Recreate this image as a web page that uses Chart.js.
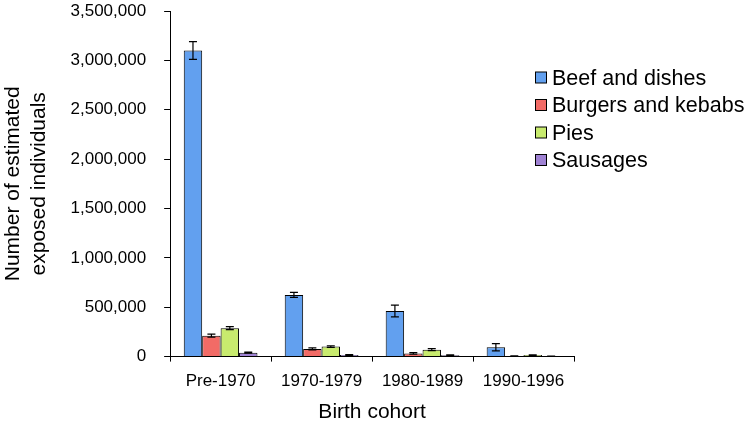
<!DOCTYPE html>
<html>
<head>
<meta charset="utf-8">
<script src="https://cdn.jsdelivr.net/npm/chart.js@4"></script>
<style>
  html, body { margin: 0; padding: 0; background: #ffffff; }
  #wrap { width: 754px; height: 424px; }
</style>
</head>
<body>
<div id="wrap"><canvas id="mychart" width="754" height="424"></canvas></div>
<script>
Chart.defaults.font.family = "'Liberation Sans', Arial, Helvetica, sans-serif";
Chart.defaults.color = "#000000";

var cohorts = ["Pre-1970", "1970-1979", "1980-1989", "1990-1996"];
var foodNames = ["Beef and dishes", "Burgers and kebabs", "Pies", "Sausages"];
var foodColours = ["#62a0ef", "#f26b66", "#c8eb6e", "#9f82d3"];

var beefValues = [3100000, 625000, 462000, 95000];
var burgerValues = [212000, 78000, 32000, 6000];
var pieValues = [288000, 102000, 70000, 15000];
var sausageValues = [40000, 16000, 14000, 5000];

var beefErrors = [90000, 25000, 60000, 37000];
var burgerErrors = [15000, 10000, 8000, 2000];
var pieErrors = [15000, 8000, 10000, 3000];
var sausageErrors = [5000, 3000, 3000, 1000];

var yTicks = [0, 500000, 1000000, 1500000, 2000000, 2500000, 3000000, 3500000];

var allValues = [beefValues, burgerValues, pieValues, sausageValues];
var allErrors = [beefErrors, burgerErrors, pieErrors, sausageErrors];

var datasets = foodNames.map(function (name, i) {
   return {
      label: name,
      data: allValues[i],
      errors: allErrors[i],
      backgroundColor: foodColours[i],
      borderColor: "#000000",
      borderWidth: 1,
      categoryPercentage: 0.73,
      barPercentage: 1.0,
   };
});

// whiskers drawn from the y scale
var errorBars = {
   id: "errorBars",
   afterDatasetsDraw: function (chart) {
      var ctx = chart.ctx;
      var y = chart.scales.y;
      ctx.save();
      ctx.strokeStyle = "#000000";
      ctx.lineWidth = 1.2;
      chart.data.datasets.forEach(function (ds, i) {
         var meta = chart.getDatasetMeta(i);
         meta.data.forEach(function (bar, j) {
            var v = ds.data[j];
            var e = ds.errors[j];
            var top = y.getPixelForValue(v + e);
            var bot = y.getPixelForValue(Math.max(v - e, 0));
            var x = bar.x;
            ctx.beginPath();
            ctx.moveTo(x, top);
            ctx.lineTo(x, bot);
            ctx.moveTo(x - 4, top);
            ctx.lineTo(x + 4, top);
            ctx.moveTo(x - 4, bot);
            ctx.lineTo(x + 4, bot);
            ctx.stroke();
         });
      });
      ctx.restore();
   },
};

// legend sits over the plot, to the upper right
var floatLegend = {
   id: "floatLegend",
   afterDraw: function (chart) {
      var ctx = chart.ctx;
      ctx.save();
      ctx.font = "21.5px 'Liberation Sans', Arial, sans-serif";
      ctx.textBaseline = "middle";
      chart.data.datasets.forEach(function (ds, i) {
         var cy = 78 + i * 27.5;
         ctx.fillStyle = ds.backgroundColor;
         ctx.fillRect(535.5, cy - 6, 11, 11);
         ctx.strokeStyle = "#000000";
         ctx.lineWidth = 1;
         ctx.strokeRect(535.5, cy - 6, 11, 11);
         ctx.fillStyle = "#000000";
         ctx.fillText(ds.label, 552, cy + 1);
      });
      ctx.restore();
   },
};

var barChart = new Chart(document.getElementById("mychart"), {
   type: "bar",
   data: { labels: cohorts, datasets: datasets },
   plugins: [errorBars, floatLegend],
   options: {
      responsive: false,
      animation: false,
      layout: { padding: { left: 0, right: 180, top: 0, bottom: 0 } },
      plugins: {
         legend: { display: false },
         tooltip: { enabled: false },
      },
      scales: {
         x: {
            grid: {
               offset: true,
               drawOnChartArea: false,
               color: "#000000",
               tickLength: 5,
               tickColor: "#000000",
            },
            border: { color: "#000000", width: 1 },
            ticks: { font: { size: 17 }, padding: 10, color: "#000000" },
            title: {
               display: true,
               text: "Birth cohort",
               font: { size: 21, lineHeight: 1.0 },
               padding: { top: 0, bottom: 1 },
               color: "#000000",
            },
         },
         y: {
            min: 0,
            max: 3500000,
            afterBuildTicks: function (axis) {
               axis.ticks = yTicks.map(function (v) { return { value: v }; });
            },
            // keep the plot top close to the canvas edge
            afterFit: function (axis) {
               axis.paddingTop = 11;
               axis.paddingBottom = 0;
            },
            grid: {
               drawOnChartArea: false,
               tickLength: 6,
               tickColor: "#000000",
            },
            border: { color: "#000000", width: 1 },
            ticks: {
               font: { size: 17 },
               padding: 18,
               color: "#000000",
               callback: function (v) { return v.toLocaleString("en-US"); },
            },
            title: {
               display: true,
               text: ["Number of estimated", "exposed individuals"],
               font: { size: 21, lineHeight: 1.25 },
               padding: { top: 0, bottom: 0 },
               color: "#000000",
            },
         },
      },
   },
});
</script>
</body>
</html>
